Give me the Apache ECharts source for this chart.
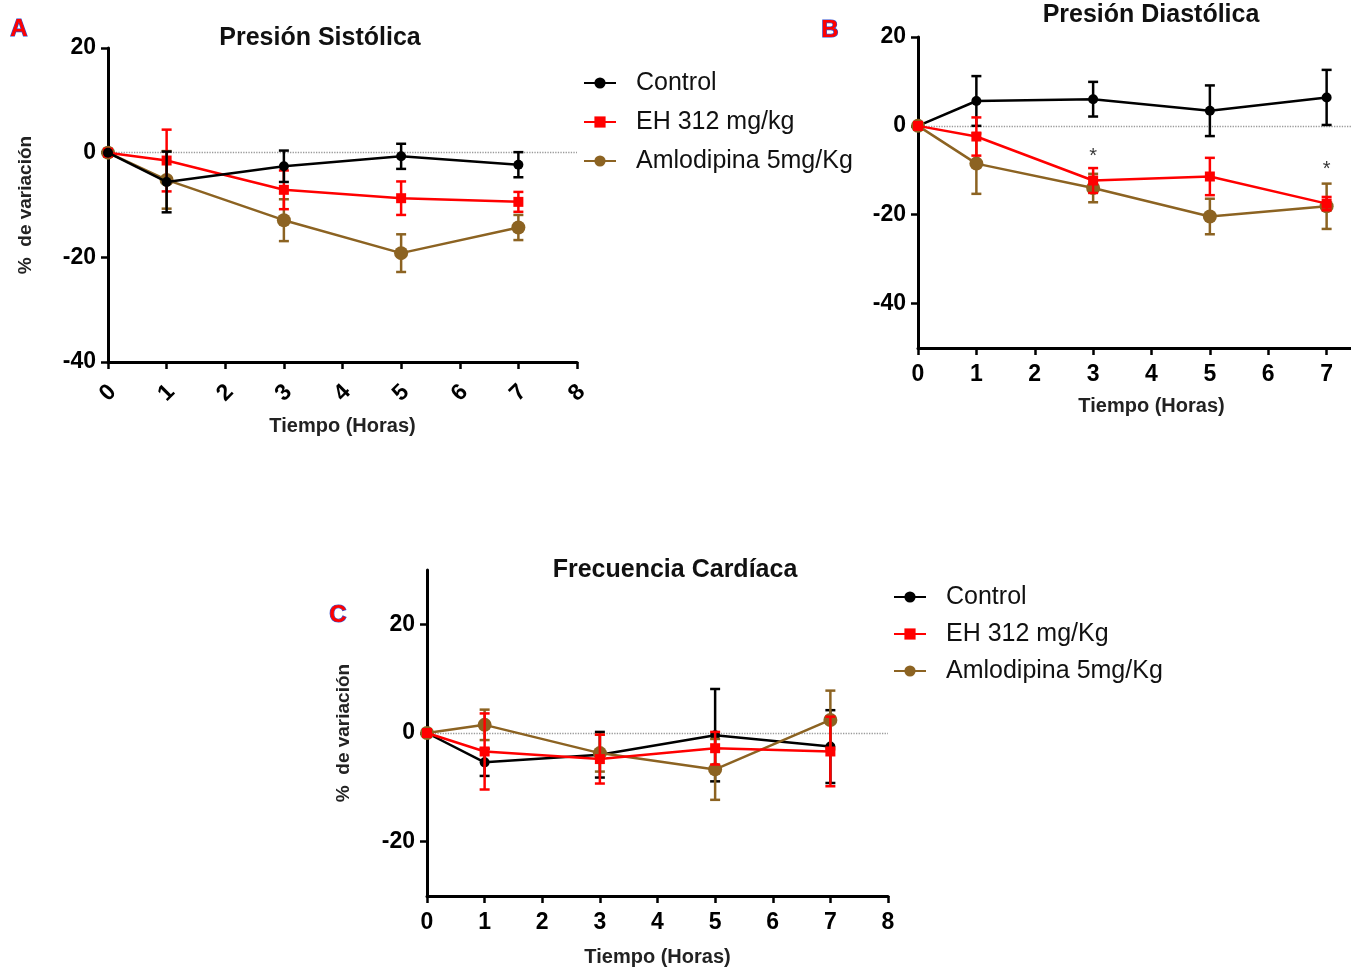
<!DOCTYPE html>
<html>
<head>
<meta charset="utf-8">
<script src="https://cdn.jsdelivr.net/npm/echarts@6/dist/echarts.min.js"></script>
<style>
html,body{margin:0;padding:0;background:#fff;}
#chart{width:1351px;height:968px;}
</style>
</head>
<body>
<div id="chart"></div>
<script>
// ---------- DATA ----------
const hours = [0, 1, 3, 5, 7];
const xTicks = [0, 1, 2, 3, 4, 5, 6, 7, 8];

const legendNamesA = ['Control', 'EH 312 mg/kg', 'Amlodipina 5mg/Kg'];
const legendNamesC = ['Control', 'EH 312 mg/Kg', 'Amlodipina 5mg/Kg'];

const titles = ['Presión Sistólica', 'Presión Diastólica', 'Frecuencia Cardíaca'];
const panelLetters = ['A', 'B', 'C'];
const xAxisName = 'Tiempo (Horas)';
const yAxisName = '%  de variación';

// Panel A: systolic pressure (% change)
const sysControl = [0, -5.6, -2.6, -0.7, -2.3];
const sysControlErr = [0, 5.8, 3.0, 2.4, 2.4];
const sysEH = [0, -1.5, -7.1, -8.7, -9.4];
const sysEHErr = [0, 5.9, 3.7, 3.2, 1.9];
const sysAml = [0, -5.2, -12.9, -19.2, -14.3];
const sysAmlErr = [0, 5.5, 4.0, 3.6, 2.4];
const sysYTicks = [-40, -20, 0, 20];

// Panel B: diastolic pressure (% change)
const diaControl = [0, 5.6, 6.0, 3.4, 6.4];
const diaControlErr = [0, 5.6, 3.9, 5.7, 6.2];
const diaEH = [0, -2.4, -12.3, -11.4, -17.5];
const diaEHErr = [0, 4.3, 2.8, 4.2, 1.5];
const diaAml = [0, -8.5, -14.0, -20.4, -18.1];
const diaAmlErr = [0, 6.8, 3.2, 4.0, 5.1];
const diaYTicks = [-40, -20, 0, 20];
const diaSigHours = [3, 7];
const diaSigLevels = [-7.0, -9.9];

// Panel C: heart rate (% change)
const hrControl = [0, -5.4, -4.0, -0.4, -2.5];
const hrControlErr = [0, 2.5, 4.2, 8.5, 6.7];
const hrEH = [0, -3.4, -4.8, -2.8, -3.4];
const hrEHErr = [0, 7.0, 4.5, 3.0, 6.4];
const hrAml = [0, 1.5, -3.7, -6.7, 2.4];
const hrAmlErr = [0, 2.8, 3.4, 5.6, 5.4];
const hrYTicks = [-20, 0, 20];

// ---------- STYLE ----------
const FONT = "'Liberation Sans', Arial, sans-serif";
const C_BLACK = '#000000';
const C_RED = '#ff0000';
const C_BROWN = '#8c6322';

const chart = echarts.init(document.getElementById('chart'));

function pts(vals) { return hours.map((h, i) => [h, vals[i]]); }
function errs(vals, e) {
  const out = [];
  hours.forEach((h, i) => { if (e[i] > 0) out.push([h, vals[i] - e[i], vals[i] + e[i]]); });
  return out;
}

function errSeries(name, idx, vals, e, color, z) {
  return {
    type: 'custom', name: name, xAxisIndex: idx, yAxisIndex: idx, z: z,
    data: errs(vals, e), encode: { x: 0, y: [1, 2] }, silent: true,
    renderItem: function (params, api) {
      const x = api.value(0), lo = api.value(1), hi = api.value(2);
      const p1 = api.coord([x, hi]), p2 = api.coord([x, lo]);
      const w = 5;
      const st = { stroke: color, lineWidth: 2.5 };
      return {
        type: 'group', children: [
          { type: 'line', shape: { x1: p1[0], y1: p1[1], x2: p2[0], y2: p2[1] }, style: st },
          { type: 'line', shape: { x1: p1[0] - w, y1: p1[1], x2: p1[0] + w, y2: p1[1] }, style: st },
          { type: 'line', shape: { x1: p2[0] - w, y1: p2[1], x2: p2[0] + w, y2: p2[1] }, style: st }
        ]
      };
    }
  };
}

function lineSeries(name, idx, vals, color, symbol, size, z, zeroLine) {
  const s = {
    type: 'line', name: name, xAxisIndex: idx, yAxisIndex: idx, z: z,
    data: pts(vals), symbol: symbol, symbolSize: size,
    lineStyle: { color: color, width: 2.5 }, itemStyle: { color: color },
    animation: false
  };
  if (zeroLine) {
    s.markLine = {
      silent: true, symbol: ['none', 'none'], label: { show: false }, z: 1,
      lineStyle: { type: 'dotted', color: '#9a9a9a', width: 1.3 },
      data: [{ yAxis: 0 }]
    };
  }
  return s;
}

function xAxisCfg(idx, rotate, margin, gap) {
  return {
    type: 'value', gridIndex: idx, min: 0, max: 8, interval: 1,
    name: xAxisName, nameLocation: 'middle', nameGap: gap,
    nameTextStyle: { fontFamily: FONT, fontWeight: 'bold', fontSize: 20, color: '#222' },
    axisLine: { show: true, onZero: false, lineStyle: { color: '#000', width: 3 } },
    axisTick: { show: true, length: 7, lineStyle: { color: '#000', width: 2.5 }, customValues: xTicks },
    axisLabel: {
      fontFamily: FONT, fontWeight: 'bold', fontSize: 23, color: '#000',
      rotate: rotate, align: 'center', verticalAlign: 'middle', margin: margin,
      customValues: xTicks
    },
    splitLine: { show: false }
  };
}

function yAxisCfg(idx, min, max, ticks, name, gap) {
  return {
    type: 'value', gridIndex: idx, min: min, max: max,
    name: name, nameLocation: 'middle', nameGap: gap,
    nameTextStyle: { fontFamily: FONT, fontWeight: 'bold', fontSize: 19, color: '#222' },
    axisLine: { show: true, onZero: false, lineStyle: { color: '#000', width: 3 } },
    axisTick: { show: true, length: 7, lineStyle: { color: '#000', width: 2.5 }, customValues: ticks },
    axisLabel: { fontFamily: FONT, fontWeight: 'bold', fontSize: 23, color: '#000', margin: 12, customValues: ticks },
    splitLine: { show: false }
  };
}

function legendCfg(names, left, top, gap) {
  return {
    data: names, orient: 'vertical', left: left, top: top, padding: 0,
    itemWidth: 32, itemHeight: 14, itemGap: gap, selectedMode: false,
    textStyle: { fontFamily: FONT, fontSize: 25, color: '#111', padding: [0, 0, 0, 15], lineHeight: 26 }
  };
}

function letter(t, x, y) {
  return {
    type: 'text', x: x, y: y,
    style: { text: t, fontFamily: FONT, fontWeight: 'bold', fontSize: 24, fill: '#ff0000',
             stroke: '#3050d0', lineWidth: 1.2, align: 'center', verticalAlign: 'middle' }
  };
}
function titleText(t, x, y) {
  return {
    type: 'text', x: x, y: y,
    style: { text: t, fontFamily: FONT, fontWeight: 'bold', fontSize: 25, fill: '#111',
             align: 'center', verticalAlign: 'middle' }
  };
}

const option = {
  animation: false,
  backgroundColor: '#fff',
  grid: [
    { left: 108, top: 48, width: 469, height: 314, outerBoundsMode: 'none', containLabel: false },
    { left: 918, top: 37, width: 467, height: 311, outerBoundsMode: 'none', containLabel: false },
    { left: 427, top: 570, width: 461, height: 326, outerBoundsMode: 'none', containLabel: false }
  ],
  xAxis: [
    xAxisCfg(0, 45, 31, 54),
    xAxisCfg(1, 0, 27, 48),
    xAxisCfg(2, 0, 27, 51)
  ],
  yAxis: [
    yAxisCfg(0, -40, 20, sysYTicks, yAxisName, 73),
    yAxisCfg(1, -50, 20, diaYTicks, '', 73),
    yAxisCfg(2, -30, 30, hrYTicks, yAxisName, 74)
  ],
  legend: [
    legendCfg(legendNamesA, 583, 70, 13),
    legendCfg(legendNamesC, 893, 584, 11)
  ],
  graphic: [
    letter(panelLetters[0], 19, 29),
    letter(panelLetters[1], 830, 30),
    letter(panelLetters[2], 338, 615),
    titleText(titles[0], 320, 38),
    titleText(titles[1], 1151, 15),
    titleText(titles[2], 675, 570)
  ],
  series: [
    // Panel A
    errSeries('errA-aml', 0, sysAml, sysAmlErr, C_BROWN, 2),
    lineSeries(legendNamesA[2], 0, sysAml, C_BROWN, 'circle', 14, 3, true),
    errSeries('errA-eh', 0, sysEH, sysEHErr, C_RED, 4),
    lineSeries(legendNamesA[1], 0, sysEH, C_RED, 'rect', 10, 5, false),
    errSeries('errA-ctl', 0, sysControl, sysControlErr, C_BLACK, 6),
    lineSeries(legendNamesA[0], 0, sysControl, C_BLACK, 'circle', 10, 7, false),
    // Panel B
    errSeries('errB-ctl', 1, diaControl, diaControlErr, C_BLACK, 2),
    lineSeries(legendNamesA[0], 1, diaControl, C_BLACK, 'circle', 10, 3, true),
    errSeries('errB-aml', 1, diaAml, diaAmlErr, C_BROWN, 4),
    lineSeries(legendNamesA[2], 1, diaAml, C_BROWN, 'circle', 14, 5, false),
    errSeries('errB-eh', 1, diaEH, diaEHErr, C_RED, 6),
    lineSeries(legendNamesA[1], 1, diaEH, C_RED, 'rect', 10, 7, false),
    {
      type: 'scatter', name: 'sig', xAxisIndex: 1, yAxisIndex: 1, z: 8, silent: true,
      data: diaSigHours.map((h, i) => [h, diaSigLevels[i]]), symbolSize: 1,
      itemStyle: { color: 'rgba(0,0,0,0)' },
      label: { show: true, position: 'inside', formatter: '*', fontFamily: FONT, fontSize: 20, color: '#000' }
    },
    // Panel C
    errSeries('errC-ctl', 2, hrControl, hrControlErr, C_BLACK, 2),
    lineSeries(legendNamesC[0], 2, hrControl, C_BLACK, 'circle', 10, 3, true),
    errSeries('errC-aml', 2, hrAml, hrAmlErr, C_BROWN, 4),
    lineSeries(legendNamesC[2], 2, hrAml, C_BROWN, 'circle', 14, 5, false),
    errSeries('errC-eh', 2, hrEH, hrEHErr, C_RED, 6),
    lineSeries(legendNamesC[1], 2, hrEH, C_RED, 'rect', 10, 7, false)
  ]
};
chart.setOption(option);
</script>
</body>
</html>
